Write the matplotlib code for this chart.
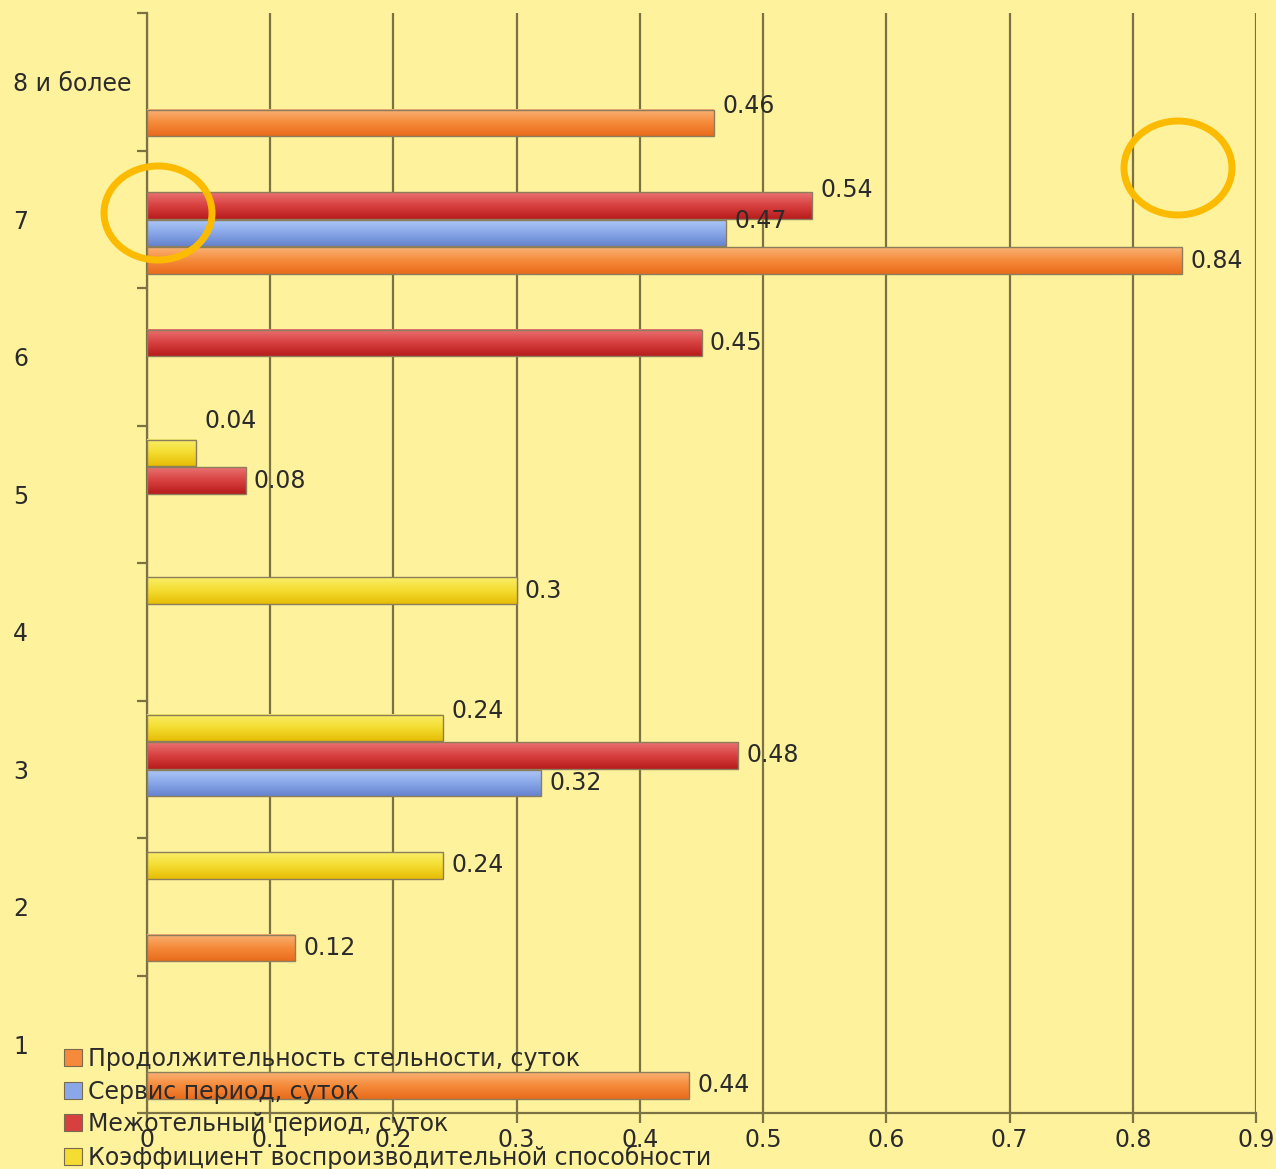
import numpy as np
import matplotlib.pyplot as plt
from matplotlib.patches import Patch, Ellipse
from matplotlib.colors import to_rgb

# Доля по группам (число отёлов)
categories = ['1', '2', '3', '4', '5', '6', '7', '8 и более']
series_names = ['Продолжительность стельности, суток',
                'Сервис период, суток',
                'Межотельный период, суток',
                'Коэффициент воспроизводительной способности']
gestation = [0.44, 0.12, None, None, None, None, 0.84, 0.46]
service = [None, None, 0.32, None, None, None, 0.47, None]
calving_interval = [None, None, 0.48, None, 0.08, 0.45, 0.54, None]
repro_coef = [None, 0.24, 0.24, 0.3, 0.04, None, None, None]
x_ticks = [0, 0.1, 0.2, 0.3, 0.4, 0.5, 0.6, 0.7, 0.8, 0.9]

bg = '#fff29c'
grid_col = '#7a7244'
text_col = '#2b2b2b'

# (светлый верх, основной, тёмный низ) для каждого ряда
palettes = [('#fab274', '#f58a3a', '#e86c1c'),
            ('#aec8f6', '#8aa8e8', '#6584d0'),
            ('#ea7272', '#d84040', '#b81c1c'),
            ('#f9ee68', '#f4dc30', '#e6bd06')]
offsets = [-0.3, -0.1, 0.1, 0.3]
bar_h = 0.195

# сдвиг подписей вверх, пт: (ряд, категория)
label_dy = {(0, 7): 12, (2, 6): 11, (1, 6): 9, (3, 4): 23, (3, 2): 12}

plt.rcParams['font.family'] = ['DejaVu Sans']
plt.rcParams['font.size'] = 17

fig = plt.figure(figsize=(12.76, 11.69), dpi=100)
fig.patch.set_facecolor(bg)
ax = fig.add_axes([147 / 1276, 1 - 1113 / 1169, (1256 - 147) / 1276, (1113 - 13) / 1169])
ax.set_facecolor(bg)


def gradient(top, mid, bottom, n=40):
    t = np.linspace(0, 1, n)[:, None]
    a, b, c = (np.array(to_rgb(col)) for col in (top, mid, bottom))
    upper = a + (b - a) * np.clip(t * 2, 0, 1)
    lower = b + (c - b) * np.clip(t * 2 - 1, 0, 1)
    rows = np.where(t < 0.5, upper, lower)
    return rows[:, None, :]


all_series = [gestation, service, calving_interval, repro_coef]
ypos = np.arange(len(categories))
for si, values in enumerate(all_series):
    img = gradient(*palettes[si])
    for ci, v in enumerate(values):
        if v is None:
            continue
        y = ypos[ci] + offsets[si]
        ax.imshow(img, extent=[0, v, y - bar_h / 2, y + bar_h / 2],
                  aspect='auto', interpolation='bilinear', zorder=3)
        ax.barh(y, v, height=bar_h, facecolor='none',
                edgecolor='#8c7d5c', linewidth=1.0, zorder=4)
        ax.annotate(f'{v:g}', xy=(v, y), xytext=(6, label_dy.get((si, ci), 0)),
                    textcoords='offset points', va='center', ha='left',
                    color=text_col, zorder=5)

ax.set_xlim(0, 0.9)
ax.set_ylim(-0.5, 7.5)

ax.set_xticks(x_ticks)
ax.set_xticklabels([f'{t:g}' for t in x_ticks], color=text_col)
ax.xaxis.grid(True, color=grid_col, linewidth=1.6, zorder=1)
ax.set_axisbelow(True)

ax.set_yticks(np.arange(-0.5, len(categories), 1.0))
ax.set_yticklabels([])
ax.set_yticks(ypos, minor=True)
ax.set_yticklabels(categories, minor=True, color=text_col)
ax.tick_params(axis='y', which='minor', length=0, pad=96.5)
for lab in ax.get_yticklabels(minor=True):
    lab.set_ha('left')
ax.tick_params(axis='y', which='major', length=7, width=1.6, color=grid_col)
ax.tick_params(axis='x', length=7, width=1.6, color=grid_col, pad=4)

for side in ('top', 'right'):
    ax.spines[side].set_visible(False)
for side in ('left', 'bottom'):
    ax.spines[side].set_color(grid_col)
    ax.spines[side].set_linewidth(1.6)

handles = [Patch(facecolor=p[1], edgecolor='#7a6a50', linewidth=0.8) for p in palettes]
leg = fig.legend(handles, series_names, loc='upper left',
                 bbox_to_anchor=(64 / 1276, 1 - 1047 / 1169),
                 frameon=False, borderpad=0, borderaxespad=0,
                 handlelength=0.75, handleheight=0.72, handletextpad=0.25,
                 labelspacing=0.36, fontsize=17)
for t in leg.get_texts():
    t.set_color(text_col)
leg.set_zorder(10)

# выделенные области
for cx, cy in [(158, 213), (1178, 168)]:
    fig.add_artist(Ellipse((cx / 1276, 1 - cy / 1169), 108 / 1276, 94 / 1169,
                           transform=fig.transFigure, fill=False,
                           edgecolor='#fdbb00', linewidth=5, zorder=20))

fig.savefig('out.png', dpi=100, facecolor=bg)
